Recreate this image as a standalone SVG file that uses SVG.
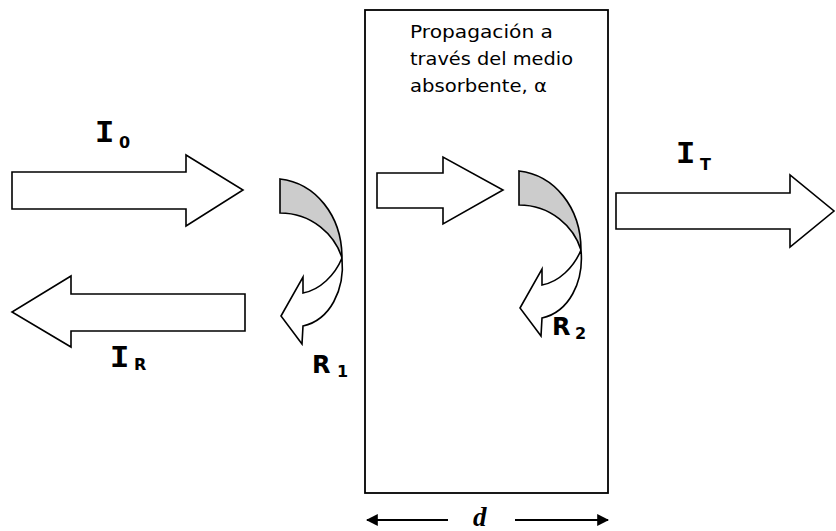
<svg xmlns="http://www.w3.org/2000/svg" xmlns:xlink="http://www.w3.org/1999/xlink" width="836" height="531" viewBox="0 0 836 531">
  <style>
    .block { fill: #ffffff; stroke: #000000; stroke-width: 1.6; stroke-linejoin: miter; }
    .shade { fill: #cccccc; stroke: #000000; stroke-width: 1.6; }
    .frame { fill: #ffffff; stroke: #000000; stroke-width: 1.8; }
    .body  { font-family: "DejaVu Sans", "Liberation Sans", sans-serif; font-size: 18px; fill: #000; }
    .sym   { font-family: "Liberation Mono", "DejaVu Sans Mono", monospace; font-weight: bold; font-size: 32px; fill: #000; }
    .letter { font-family: "DejaVu Sans", "Liberation Sans", sans-serif; font-weight: bold; font-size: 24px; fill: #000; }
    .sub   { font-family: "DejaVu Sans", "Liberation Sans", sans-serif; font-weight: bold; font-size: 16px; fill: #000; }
    .dim   { stroke: #000; stroke-width: 2; fill: none; }
  </style>
  <defs>
    <marker id="head" viewBox="0 0 10 10" refX="9" refY="5" markerWidth="6" markerHeight="6" orient="auto-start-reverse" markerUnits="strokeWidth">
      <path d="M0,0 L10,5 L0,10 Z" fill="#000"/>
    </marker>
    <!-- curved reflection arrow: shaded quarter band turning into a white arrow -->
    <g id="bend">
      <path class="shade" d="M280,179 C315,183 342,215 342,258 C335,235 312,213 280,213 Z"/>
      <path class="block" d="M342,258 C345,290 330,320 303,326 L302,344 L281,316 L303,277 L303,293 C320,290 335,275 342,258 Z"/>
    </g>
  </defs>

  <!-- absorbing medium -->
  <g id="medium">
    <rect class="frame" x="365" y="10" width="243" height="483"/>
    <text class="body" x="410" y="38" textLength="143" lengthAdjust="spacingAndGlyphs">Propagación a</text>
    <text class="body" x="410" y="65" textLength="163" lengthAdjust="spacingAndGlyphs">través del medio</text>
    <text class="body" x="410" y="92" textLength="137" lengthAdjust="spacingAndGlyphs">absorbente, α</text>
  </g>

  <!-- incident beam -->
  <g id="incident">
    <polygon class="block" points="12,172 186,172 186,155 243,190 186,226 186,209 12,209"/>
    <text class="sym" x="95" y="142">I</text>
    <text class="sub" x="119" y="148">0</text>
  </g>

  <!-- reflected beam -->
  <g id="reflected">
    <polygon class="block" points="245,294 71,294 71,276 12,312 71,347 71,331 245,331"/>
    <text class="sym" x="110" y="367">I</text>
    <text class="sub" x="134" y="370" font-size="13px">R</text>
  </g>

  <!-- first interface reflection -->
  <g id="reflection-1">
    <use xlink:href="#bend"/>
    <text class="letter" x="312" y="373">R</text>
    <text class="sub" x="337" y="377">1</text>
  </g>

  <!-- beam inside the medium -->
  <g id="internal">
    <polygon class="block" points="377,173 443,173 443,157 503,190 443,224 443,208 377,208"/>
  </g>

  <!-- second interface reflection -->
  <g id="reflection-2">
    <use xlink:href="#bend" transform="translate(239,-8)"/>
    <text class="letter" x="552" y="335">R</text>
    <text class="sub" x="575" y="339">2</text>
  </g>

  <!-- transmitted beam -->
  <g id="transmitted">
    <polygon class="block" points="616,193 790,193 790,175 834,211 790,247 790,229 616,229"/>
    <text class="sym" x="676" y="163">I</text>
    <text class="sub" x="700" y="170" font-size="15px">T</text>
  </g>

  <!-- thickness marker -->
  <g id="connectors">
    <line class="dim" x1="448" y1="520" x2="367" y2="520" marker-end="url(#head)"/>
    <line class="dim" x1="515" y1="520" x2="608" y2="520" marker-end="url(#head)"/>
  </g>
  <g id="thickness">
    <text x="473" y="526" font-family="Liberation Serif, serif" font-style="italic" font-weight="bold" font-size="27px" fill="#000">d</text>
  </g>
</svg>
